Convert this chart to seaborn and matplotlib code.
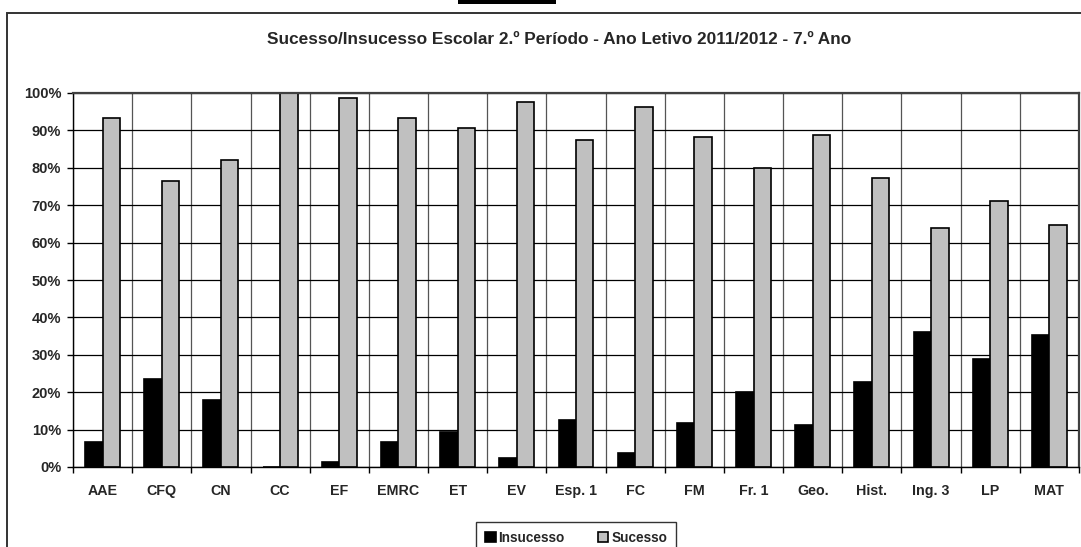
import numpy as np
import pandas as pd
import seaborn as sns
from matplotlib import pyplot as plt
from matplotlib.patches import Rectangle
from matplotlib.ticker import PercentFormatter

disciplinas = ["AAE", "CFQ", "CN", "CC", "EF", "EMRC", "ET", "EV", "Esp. 1",
               "FC", "FM", "Fr. 1", "Geo.", "Hist.", "Ing. 3", "LP", "MAT"]
insucesso = [6.7, 23.4, 17.8, 0.0, 1.3, 6.7, 9.3, 2.5, 12.7,
             3.7, 11.8, 20.0, 11.3, 22.8, 36.0, 28.8, 35.3]
sucesso = [93.3, 76.6, 82.2, 100.0, 98.7, 93.3, 90.7, 97.5, 87.3,
           96.3, 88.2, 80.0, 88.7, 77.2, 64.0, 71.2, 64.7]
series = ["Insucesso", "Sucesso"]
titulo = "Sucesso/Insucesso Escolar 2.º Período - Ano Letivo 2011/2012 - 7.º Ano"

df = pd.DataFrame({
    "disciplina": disciplinas * 2,
    "valor": insucesso + sucesso,
    "serie": [series[0]] * len(disciplinas) + [series[1]] * len(disciplinas),
})

sns.set_style("white")
plt.rcParams["font.family"] = ["Liberation Sans", "DejaVu Sans"]
plt.rcParams["font.weight"] = "bold"

W, H = 1081, 547
fig = plt.figure(figsize=(W / 100, H / 100), dpi=100)
ax = fig.add_axes([73 / W, (H - 467) / H, 1006 / W, 374 / H])

sns.barplot(data=df, x="disciplina", y="valor", hue="serie",
            palette=["black", "#C0C0C0"], width=0.59, gap=0,
            edgecolor="black", linewidth=1.2, ax=ax)

ax.set_xlim(-0.5, len(disciplinas) - 0.5)
ax.set_ylim(0, 100)
ax.set_yticks(np.arange(0, 101, 10))
ax.yaxis.set_major_formatter(PercentFormatter(100, decimals=0))
ax.set_xticks(np.arange(-0.5, len(disciplinas), 1), minor=True)
ax.set_axisbelow(True)
ax.grid(axis="y", which="major", color="black", linewidth=0.9)
ax.grid(axis="x", which="minor", color="#555555", linewidth=0.9)
ax.grid(axis="x", which="major", visible=False)
ax.set_xlabel("")
ax.set_ylabel("")

ax.tick_params(axis="x", which="major", length=0, pad=12, labelsize=10.3)
ax.tick_params(axis="x", which="minor", length=4, width=1, color="black", bottom=True)
ax.tick_params(axis="y", length=4, width=1, color="black", pad=4.5, labelsize=10.5, left=True)
for lab in ax.get_xticklabels() + ax.get_yticklabels():
    lab.set_fontweight("bold")

for side in ["left", "bottom"]:
    ax.spines[side].set_color("black")
    ax.spines[side].set_linewidth(1.0)
for side in ["top", "right"]:
    ax.spines[side].set_color("#404040")
    ax.spines[side].set_linewidth(1.6)

handles, labels = ax.get_legend_handles_labels()
ax.legend_.remove()
leg = fig.legend(handles, labels, loc="upper center",
                 bbox_to_anchor=(576 / W, 1 - 522 / H), ncol=2,
                 frameon=True, fancybox=False, edgecolor="black",
                 handlelength=0.8, handleheight=0.8, handletextpad=0.2,
                 columnspacing=2.4, borderpad=0.65, borderaxespad=0,
                 prop={"weight": "bold", "size": 9.8})
leg.get_frame().set_linewidth(1.0)

fig.text(559 / W, 1 - 40 / H, titulo, ha="center", va="center",
         fontsize=12.4, fontweight="bold")

# moldura do gráfico (cortada à direita e em baixo)
fig.patches.append(Rectangle((7.5 / W, -0.1), 1.2, 1.1 - 12.7 / H,
                             transform=fig.transFigure, fill=False,
                             edgecolor="#333333", linewidth=1.4, zorder=0))
fig.patches.append(Rectangle((458 / W, 1 - 4 / H), 98 / W, 4 / H,
                             transform=fig.transFigure, facecolor="black",
                             edgecolor="none"))

fig.savefig("out.png", dpi=100)
